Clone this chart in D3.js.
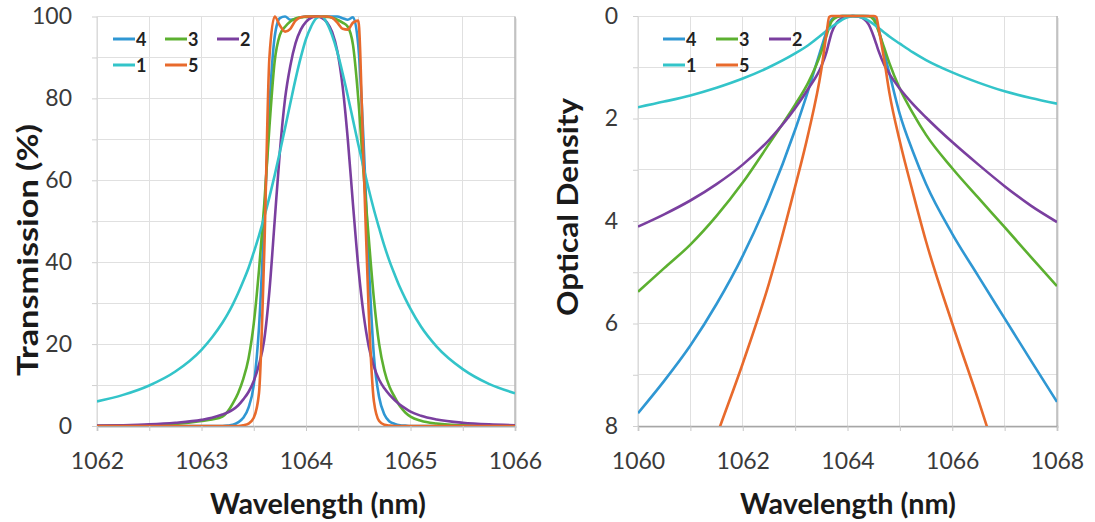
<!DOCTYPE html>
<html>
<head>
<meta charset="utf-8">
<script src="https://cdn.jsdelivr.net/npm/d3@7"></script>
<style>
  html, body { margin: 0; padding: 0; background: #ffffff; }
  svg { display: block; }
  text { font-family: Lato, "Open Sans", sans-serif; }
</style>
</head>
<body>
<svg id="fig" width="1095" height="522"></svg>
<script>
// ---- Transmission spectra (%) -------------------------------------------
const wlT = [1062, 1062.25, 1062.5, 1062.75, 1063, 1063.1, 1063.2, 1063.25, 1063.3, 1063.35,
  1063.4, 1063.45, 1063.5, 1063.55, 1063.6, 1063.65, 1063.7, 1063.75, 1063.8, 1063.85,
  1063.9, 1063.95, 1064, 1064.05, 1064.1, 1064.15, 1064.2, 1064.25, 1064.3, 1064.35,
  1064.4, 1064.45, 1064.5, 1064.55, 1064.6, 1064.65, 1064.7, 1064.75, 1064.8, 1064.85,
  1064.9, 1064.95, 1065, 1065.1, 1065.25, 1065.5, 1065.75, 1066];

const trans4 = [0, 0, 0, 0, 0, 0, 0, 0.1, 0.3, 0.9,
  2, 4.5, 10, 24, 50, 78, 95, 99.6, 100, 99.2,
  99.4, 99.8, 100, 100, 100, 100, 100, 100, 100, 99.6,
  99.2, 99.8, 93, 70, 40, 17, 7, 2.8, 1.1, 0.5,
  0.2, 0.1, 0, 0, 0, 0, 0, 0];
const trans3 = [0, 0.1, 0.2, 0.5, 1.2, 1.6, 2.3, 3.5, 5.5, 8,
  11.5, 16.5, 25, 38, 54, 73, 89, 95.5, 97.5, 98.8,
  99.5, 99.8, 99.9, 100, 100, 100, 99.9, 99.7, 99.2, 98.5,
  97.5, 93, 80, 62, 46, 31, 20, 13.5, 9.5, 7,
  4.8, 3.3, 2.3, 1.3, 0.6, 0.15, 0.05, 0];
const trans2 = [0.1, 0.2, 0.4, 0.8, 1.5, 2.0, 2.8, 3.3, 4.0, 5.0,
  6.5, 8.3, 11, 15, 21, 33, 50, 67, 80, 88,
  93.5, 96.8, 98.7, 99.7, 100, 99.7, 98.6, 96.2, 91.5, 83,
  70, 54, 39, 27.5, 19.5, 14.5, 11.3, 9.2, 7.6, 6.3,
  5.2, 4.3, 3.5, 2.5, 1.6, 0.8, 0.4, 0.2];
const trans1 = [6.0, 7.6, 9.9, 13.3, 18.6, 21.6, 25.2, 27.3, 29.7, 32.4,
  35.4, 38.6, 42.4, 46.5, 51.0, 55.9, 61.2, 66.9, 72.8, 78.8,
  84.7, 90.0, 94.5, 97.6, 99.6, 100, 98.4, 95.4, 91.3, 86.2,
  80.6, 74.7, 68.8, 63.2, 57.8, 52.8, 48.3, 44.0, 40.2, 36.9,
  33.8, 31.1, 28.6, 24.3, 19.4, 13.9, 10.3, 8.0];
const trans5 = [0, 0, 0, 0, 0, 0, 0, 0, 0, 0,
  0.2, 0.6, 2, 8, 42, 90, 100, 97.8, 96.3, 97,
  99, 99.8, 100, 100, 100, 100, 100, 99.7, 98.5, 97,
  96.8, 98.5, 99, 65, 28, 6, 1.2, 0.3, 0.1, 0,
  0, 0, 0, 0, 0, 0, 0, 0];

// ---- Optical density spectra ---------------------------------------------
const wlOD = [1060, 1060.5, 1061, 1061.5, 1062, 1062.5, 1063, 1063.25, 1063.5, 1063.6,
  1063.65, 1063.7, 1063.8, 1063.9, 1064, 1064.1, 1064.2, 1064.3, 1064.4, 1064.5,
  1064.55, 1064.6, 1064.7, 1064.8, 1065, 1065.25, 1065.5, 1066, 1066.5, 1067,
  1067.5, 1068];

const od4 = [7.75, 7.12, 6.43, 5.62, 4.68, 3.56, 2.22, 1.45, 0.62, 0.3,
  0.16, 0.06, 0.01, 0, 0, 0, 0, 0, 0, 0.04,
  0.12, 0.28, 0.72, 1.12, 1.92, 2.65, 3.28, 4.25, 5.08, 5.9,
  6.72, 7.53];
const od3 = [5.38, 4.92, 4.46, 3.9, 3.25, 2.5, 1.73, 1.3, 0.7, 0.38,
  0.22, 0.1, 0.02, 0, 0, 0, 0, 0, 0.005, 0.07,
  0.18, 0.32, 0.62, 0.92, 1.42, 1.9, 2.32, 2.97, 3.55, 4.12,
  4.7, 5.27];
const od2 = [4.11, 3.87, 3.6, 3.28, 2.9, 2.42, 1.8, 1.42, 0.98, 0.7,
  0.5, 0.32, 0.12, 0.04, 0.01, 0, 0.01, 0.05, 0.16, 0.4,
  0.55, 0.7, 0.95, 1.13, 1.42, 1.72, 1.98, 2.46, 2.9, 3.32,
  3.7, 4.02];
const od1 = [1.78, 1.67, 1.55, 1.4, 1.22, 1.0, 0.73, 0.57, 0.37, 0.29,
  0.25, 0.21, 0.14, 0.07, 0.025, 0.002, 0.007, 0.04, 0.09, 0.16,
  0.2, 0.24, 0.32, 0.4, 0.54, 0.71, 0.86, 1.1, 1.3, 1.47,
  1.6, 1.71];
const od5 = [11.4, 10.6, 9.7, 8.2, 6.78, 5.22, 3.33, 2.3, 1.05, 0.34,
  0.02, 0, 0, 0, 0, 0, 0, 0, 0, 0,
  0.02, 0.28, 0.85, 1.5, 2.45, 3.45, 4.4, 6.0, 7.5, 9.1,
  10.7, 12.3];

// ---- Series, axes and labels ----------------------------------------------
const seriesNames = ["4", "3", "2", "1", "5"];
const seriesColors = ["#2f97d3", "#5cb030", "#7a3f9f", "#33c4c9", "#e86a2c"];
const transSeries = [trans4, trans3, trans2, trans1, trans5];
const odSeries = [od4, od3, od2, od1, od5];

const transXTicks = [1062, 1063, 1064, 1065, 1066];
const transYTicks = [0, 20, 40, 60, 80, 100];
const odXTicks = [1060, 1062, 1064, 1066, 1068];
const odYTicks = [0, 2, 4, 6, 8];

const svg = d3.select("#fig");

function drawPanel(cfg) {
  const g = svg.append("g");
  const x = d3.scaleLinear().domain(cfg.xDomain).range([cfg.left, cfg.right]);
  const y = d3.scaleLinear().domain(cfg.yDomain).range([cfg.bottom, cfg.top]);

  // plot-area shadow and frame
  g.append("rect")
    .attr("x", cfg.left + 2).attr("y", cfg.top + 2)
    .attr("width", cfg.right - cfg.left).attr("height", cfg.bottom - cfg.top)
    .attr("fill", "#e9e9e9");
  g.append("rect")
    .attr("x", cfg.left).attr("y", cfg.top)
    .attr("width", cfg.right - cfg.left).attr("height", cfg.bottom - cfg.top)
    .attr("fill", "#ffffff");

  // gridlines
  const grid = g.append("g").attr("stroke", "#e0e0e0").attr("stroke-width", 1).attr("shape-rendering", "crispEdges");
  grid.selectAll("line.gx").data(cfg.xGrid).join("line")
    .attr("x1", d => x(d)).attr("x2", d => x(d))
    .attr("y1", cfg.top).attr("y2", cfg.bottom);
  grid.selectAll("line.gy").data(cfg.yGrid).join("line")
    .attr("x1", cfg.left).attr("x2", cfg.right)
    .attr("y1", d => y(d)).attr("y2", d => y(d));

  // frame edges
  g.append("line").attr("x1", cfg.right).attr("x2", cfg.right).attr("y1", cfg.top).attr("y2", cfg.bottom)
    .attr("stroke", "#b8b8b8").attr("stroke-width", 1.5);
  g.append("line").attr("x1", cfg.left).attr("x2", cfg.left).attr("y1", cfg.top).attr("y2", cfg.bottom)
    .attr("stroke", "#d6d6d6").attr("stroke-width", 1);

  // axes
  const xAxis = d3.axisBottom(x).tickValues(cfg.xGrid).tickSize(5).tickFormat(d => cfg.xTicks.includes(d) ? d3.format("d")(d) : "");
  const gx = g.append("g").attr("transform", `translate(0,${cfg.bottom})`).call(xAxis);
  gx.select(".domain").attr("stroke", "#a6a6a6").attr("stroke-width", 1.5);
  gx.selectAll(".tick line").attr("stroke", "#c8c8c8");
  gx.selectAll(".tick text").attr("font-size", 23).attr("fill", "#3a3a3a").attr("y", 27).attr("dy", "0.71em")
    .style("font-family", "Lato, 'Open Sans', sans-serif");

  const yAxis = d3.axisLeft(y).tickValues(cfg.yGrid).tickSize(5).tickFormat(d => cfg.yTicks.includes(d) ? d3.format("d")(d) : "");
  const gy = g.append("g").attr("transform", `translate(${cfg.left},0)`).call(yAxis);
  gy.select(".domain").remove();
  gy.selectAll(".tick line").attr("stroke", "#d0d0d0");
  gy.selectAll(".tick text").attr("font-size", 23).attr("fill", "#3a3a3a").attr("x", cfg.yLabelX - cfg.left)
    .attr("text-anchor", cfg.yLabelAnchor)
    .style("font-family", "Lato, 'Open Sans', sans-serif");

  // curves
  const clipId = "clip-" + cfg.id;
  svg.append("clipPath").attr("id", clipId).append("rect")
    .attr("x", cfg.left).attr("y", cfg.top - 2)
    .attr("width", cfg.right - cfg.left).attr("height", cfg.bottom - cfg.top + 2);
  const line = d3.line().x(d => x(d[0])).y(d => y(d[1])).curve(d3.curveMonotoneX);
  const curves = g.append("g").attr("clip-path", `url(#${clipId})`);
  cfg.series.forEach((vals, i) => {
    curves.append("path")
      .datum(cfg.wl.map((w, k) => [w, vals[k]]))
      .attr("fill", "none")
      .attr("stroke", seriesColors[i])
      .attr("stroke-width", 2.6)
      .attr("stroke-linejoin", "round")
      .attr("d", line);
  });

  // legend
  const lg = g.append("g");
  seriesNames.forEach((name, i) => {
    const col = i < 3 ? i : i - 3;
    const row = i < 3 ? 0 : 1;
    const lx = cfg.legendX + col * cfg.legendDX;
    const ly = cfg.legendY + row * 26;
    lg.append("line").attr("x1", lx).attr("x2", lx + 22).attr("y1", ly).attr("y2", ly)
      .attr("stroke", seriesColors[i]).attr("stroke-width", 3);
    lg.append("text").attr("x", lx + 23).attr("y", ly + 6.5)
      .attr("font-size", 18).attr("font-weight", "bold").attr("fill", "#222")
      .text(name);
  });

  // axis titles
  g.append("text").attr("x", cfg.xTitleX).attr("y", 514)
    .attr("text-anchor", "middle").attr("font-size", 28.5).attr("font-weight", "bold").attr("fill", "#1a1a1a")
    .attr("textLength", 216).attr("lengthAdjust", "spacingAndGlyphs")
    .text("Wavelength (nm)");
  g.append("text")
    .attr("transform", `translate(${cfg.yTitleX},${cfg.yTitleY}) rotate(-90)`)
    .attr("text-anchor", "middle").attr("font-size", 28.5).attr("font-weight", "bold").attr("fill", "#1a1a1a")
    .attr("textLength", cfg.yTitleLen).attr("lengthAdjust", "spacingAndGlyphs")
    .text(cfg.yTitle);
}

drawPanel({
  id: "trans", left: 97, right: 515, top: 16.5, bottom: 426,
  xDomain: [1062, 1066], yDomain: [0, 100],
  xGrid: d3.range(1062, 1066.01, 0.5), yGrid: d3.range(0, 101, 10),
  xTicks: transXTicks, yTicks: transYTicks,
  wl: wlT, series: transSeries,
  yLabelX: 72, yLabelAnchor: "end",
  legendX: 113, legendDX: 52, legendY: 39,
  xTitleX: 318, yTitleX: 38, yTitleY: 250, yTitleLen: 252, yTitle: "Transmission (%)"
});

drawPanel({
  id: "od", left: 638, right: 1057, top: 16, bottom: 426,
  xDomain: [1060, 1068], yDomain: [8, 0],
  xGrid: d3.range(1060, 1068.01, 1), yGrid: d3.range(0, 8.01, 1),
  xTicks: odXTicks, yTicks: odYTicks,
  wl: wlOD, series: odSeries,
  yLabelX: 618, yLabelAnchor: "end",
  legendX: 663, legendDX: 53, legendY: 39,
  xTitleX: 848, yTitleX: 578, yTitleY: 207, yTitleLen: 218, yTitle: "Optical Density"
});
</script>
</body>
</html>
